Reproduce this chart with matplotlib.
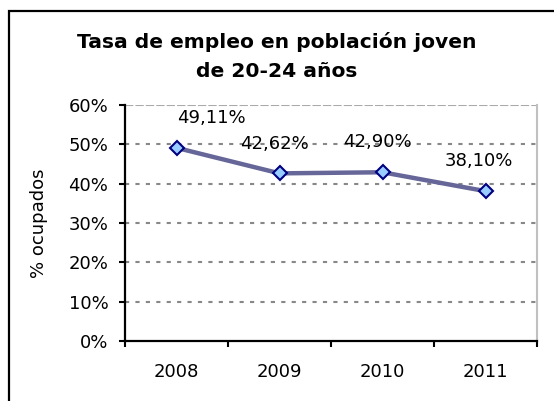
import matplotlib
matplotlib.use("Agg")
import matplotlib.pyplot as plt
from matplotlib.patches import Rectangle
from matplotlib.ticker import FuncFormatter

years = ["2008", "2009", "2010", "2011"]
values = [49.11, 42.62, 42.90, 38.10]
labels = ["49,11%", "42,62%", "42,90%", "38,10%"]
yticks = [0, 10, 20, 30, 40, 50, 60]

W, H = 554, 401
fig = plt.figure(figsize=(W / 100, H / 100), dpi=100)
plt.rcParams['font.family'] = ['DejaVu Sans']
FS = 13

# outer chart border
fig.patches.append(Rectangle((9 / W, -0.2), 1.2, 1 - 11 / H + 0.2, transform=fig.transFigure,
                             fill=False, edgecolor='black', linewidth=1.6))

ax = fig.add_axes([125 / W, 1 - 341 / H, (537 - 125) / W, (341 - 105) / H])
x = list(range(len(years)))
ax.plot(x, values, color='#666699', linewidth=3.2, marker='D', markersize=7,
        markerfacecolor='#99ccff', markeredgecolor='#000080', markeredgewidth=1.5, zorder=3)

offsets = [(25, 0), (-4, 0), (-4, 0), (-5, 0)]
for xi, v, lab, off in zip(x, values, labels, offsets):
    ax.annotate(lab, (xi, v), xytext=(off[0], 21.5), textcoords='offset points',
                ha='center', va='center', fontsize=FS, color='black')

ax.set_xlim(-0.5, len(years) - 0.5)
ax.set_ylim(0, 60)
ax.set_yticks(yticks)
ax.yaxis.set_major_formatter(FuncFormatter(lambda v, p: f"{int(v)}%"))
ax.set_xticks([i - 0.5 for i in range(len(years) + 1)], minor=False)
ax.set_xticklabels([])
ax.set_xticks(x, minor=True)
ax.set_xticklabels(years, minor=True, fontsize=FS)
ax.tick_params(axis='x', which='minor', length=0, pad=16)
ax.tick_params(axis='x', which='major', length=4, width=1.5, direction='out', color='black')
ax.tick_params(axis='y', length=4.5, width=1.5, direction='out', labelsize=FS, pad=7.5)

for y in yticks[1:-1]:
    ax.axhline(y, color='#888888', linewidth=1.5, linestyle=(0, (2, 3)), zorder=1)
ax.axhline(60, color='#aaaaaa', linewidth=1.5, linestyle=(0, (4, 1)), zorder=1)

ax.spines['left'].set_linewidth(1.6)
ax.spines['bottom'].set_linewidth(1.6)
ax.spines['top'].set_visible(False)
ax.spines['right'].set_color('#c0c0c0')
ax.spines['right'].set_linewidth(1.5)

ax.set_ylabel("% ocupados", fontsize=FS)
ax.yaxis.set_label_coords(-77 / (537 - 125), 0.5)

fig.text(277 / W, 1 - 56.5 / H, "Tasa de empleo en población joven\nde 20-24 años",
         ha='center', va='center', fontsize=14.6, fontweight='bold', linespacing=1.62)

fig.savefig("out.png", dpi=100)
